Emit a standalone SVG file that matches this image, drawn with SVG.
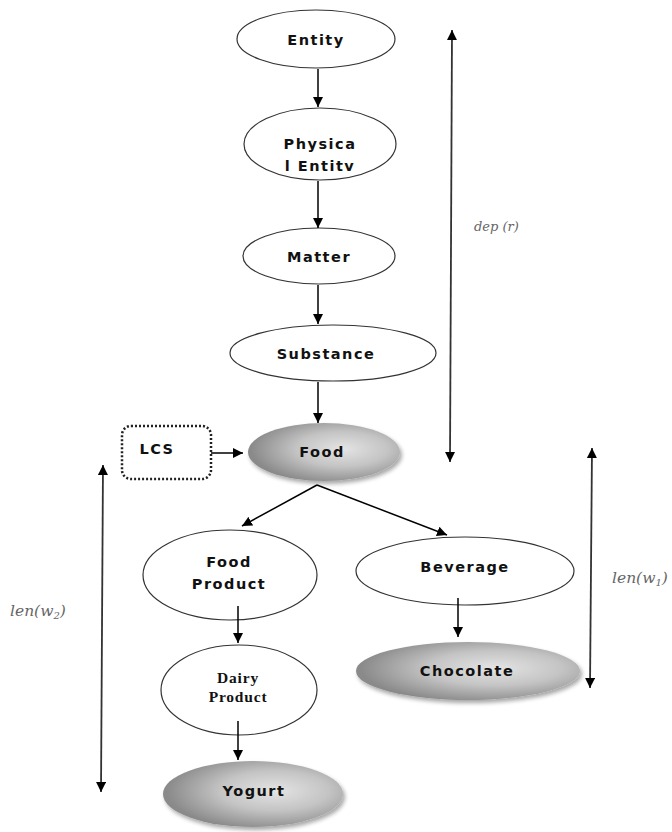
<svg xmlns="http://www.w3.org/2000/svg" width="672" height="832" viewBox="0 0 672 832">
<defs>
<marker id="ah" viewBox="0 0 10 10" refX="10" refY="5" markerWidth="10" markerHeight="10" markerUnits="userSpaceOnUse" orient="auto-start-reverse">
<path d="M0,0 L10,5 L0,10 Z" fill="#000"/>
</marker>
<radialGradient id="g" cx="0.62" cy="0.45" r="0.6">
<stop offset="0" stop-color="#e4e4e4"/>
<stop offset="0.5" stop-color="#c4c4c4"/>
<stop offset="1" stop-color="#8a8a8a"/>
</radialGradient>
<filter id="sh" x="-20%" y="-20%" width="140%" height="150%">
<feGaussianBlur in="SourceAlpha" stdDeviation="2"/>
<feOffset dx="2" dy="3" result="b"/>
<feComponentTransfer><feFuncA type="linear" slope="0.35"/></feComponentTransfer>
<feMerge><feMergeNode/><feMergeNode in="SourceGraphic"/></feMerge>
</filter>
</defs>
<style>
.n{fill:#fff;stroke:#333;stroke-width:1.2}
.s{fill:url(#g);stroke:none;filter:url(#sh)}
.t{font-family:"DejaVu Sans",Verdana,sans-serif;font-weight:bold;font-size:14.5px;letter-spacing:1.5px;fill:#111;text-anchor:middle}
.ts{font-family:"Liberation Serif","Times New Roman",serif;font-weight:bold;font-size:15.5px;letter-spacing:0.8px;fill:#111;text-anchor:middle}
.c{stroke:#000;stroke-width:1.5;fill:none;marker-end:url(#ah)}
.d{stroke:#333;stroke-width:1.8;fill:none;marker-end:url(#ah);marker-start:url(#ah)}
.m{font-family:"DejaVu Serif","Liberation Serif",serif;font-style:italic;fill:#666}
</style>
<g id="entity"><ellipse class="n" cx="316" cy="39" rx="79" ry="29"/><text class="t" x="316" y="45">Entity</text></g>
<g id="physical-entity"><ellipse class="n" cx="320" cy="144" rx="76" ry="36"/><text class="t" x="320" y="149">Physica</text><text class="t" x="320" y="171">l Entitv</text></g>
<g id="matter"><ellipse class="n" cx="319" cy="256" rx="76" ry="28"/><text class="t" x="319" y="262">Matter</text></g>
<g id="substance"><ellipse class="n" cx="333" cy="353" rx="103" ry="28"/><text class="t" x="326" y="359">Substance</text></g>
<g id="food"><ellipse class="s" cx="324" cy="452" rx="76" ry="29"/><text class="t" x="322" y="457">Food</text></g>
<g id="lcs"><rect x="122" y="426" width="89" height="53" rx="9" fill="#fff" stroke="#222" stroke-width="2.5" stroke-dasharray="2 2"/><text class="t" x="157" y="454" letter-spacing="1">LCS</text></g>
<g id="food-product"><ellipse class="n" cx="230" cy="575" rx="87" ry="45"/><text class="t" x="229" y="567">Food</text><text class="t" x="229" y="589">Product</text></g>
<g id="beverage"><ellipse class="n" cx="465" cy="571" rx="109" ry="34"/><text class="t" x="465" y="572">Beverage</text></g>
<g id="dairy-product"><ellipse class="n" cx="239" cy="690" rx="78" ry="45"/><text class="ts" x="238" y="683">Dairy</text><text class="ts" x="238" y="702">Product</text></g>
<g id="chocolate"><ellipse class="s" cx="468" cy="671" rx="112" ry="29"/><text class="t" x="467" y="676">Chocolate</text></g>
<g id="yogurt"><ellipse class="s" cx="253" cy="794" rx="90" ry="33"/><text class="t" x="254" y="796">Yogurt</text></g>
<g id="connectors">
<line class="c" x1="318" y1="69" x2="318" y2="107"/>
<line class="c" x1="318" y1="181" x2="318" y2="228"/>
<line class="c" x1="318" y1="285" x2="318" y2="324"/>
<line class="c" x1="318" y1="382" x2="318" y2="423"/>
<line class="c" x1="211" y1="453" x2="243" y2="453"/>
<line class="c" x1="317" y1="485" x2="242" y2="526"/>
<line class="c" x1="317" y1="485" x2="447" y2="535"/>
<line class="c" x1="238" y1="606" x2="238" y2="643"/>
<line class="c" x1="458" y1="598" x2="458" y2="637"/>
<line class="c" x1="238" y1="721" x2="238" y2="760"/>
<line class="d" x1="452" y1="30" x2="450" y2="462"/>
<line class="d" x1="592" y1="448" x2="590" y2="688"/>
<line class="d" x1="103" y1="465" x2="101" y2="792"/>
</g>
<g id="labels">
<text class="m" x="474" y="231" font-size="13">dep (r)</text>
<text class="m" x="612" y="583" font-size="15.5">len(w<tspan font-size="10" dy="3">1</tspan><tspan dy="-3">)</tspan></text>
<text class="m" x="10" y="616" font-size="15.5">len(w<tspan font-size="10" dy="3">2</tspan><tspan dy="-3">)</tspan></text>
</g>
</svg>
